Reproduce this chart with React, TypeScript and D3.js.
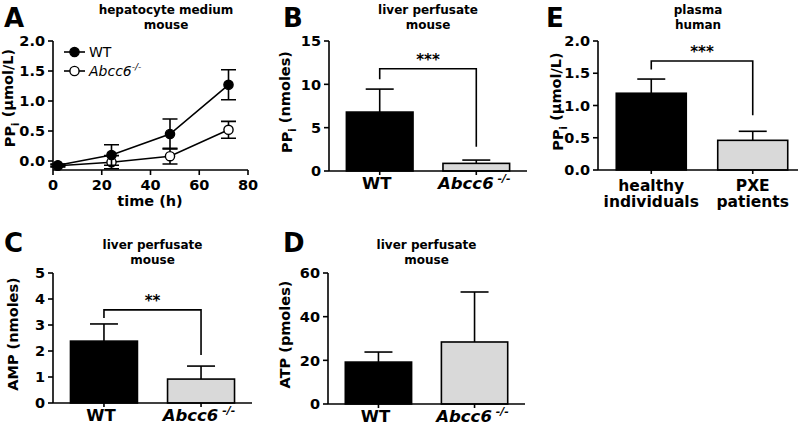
import * as d3 from "d3";

const FONT = "'DejaVu Sans', 'Liberation Sans', sans-serif";

// ---- panel A: hepatocyte medium, time course ----
const timeH = [2, 24, 48, 72];
const wtPPi = [-0.07, 0.1, 0.45, 1.27];
const wtPPiErr = [0.02, 0.17, 0.25, 0.25];
const koPPi = [-0.08, -0.02, 0.08, 0.52];
const koPPiErr = [0.02, 0.11, 0.13, 0.14];
const timeTicks = [0, 20, 40, 60, 80];
const ppiTicksA = [0, 0.5, 1, 1.5, 2];

// ---- bar panels ----
const mouseGroups = ["WT", "Abcc6"];
const humanGroups = ["healthy", "PXE"];
const humanLines: Record<string, string[]> = {
  healthy: ["healthy", "individuals"],
  PXE: ["PXE", "patients"],
};

const perfusatePPi = [6.8, 0.88];
const perfusatePPiErr = [2.65, 0.38];
const perfusateAMP = [2.38, 0.92];
const perfusateAMPErr = [0.66, 0.5];
const perfusateATP = [19.2, 28.4];
const perfusateATPErr = [4.6, 22.9];
const plasmaPPi = [1.19, 0.46];
const plasmaPPiErr = [0.22, 0.14];

const barFill = ["#000000", "#d9d9d9"];

type Bracket = { y: number; left: number; right: number; stars: string };

function PPiLabel({ unit }: { unit: string }) {
  return (
    <>
      PP<tspan fontSize="0.7em" dy="0.35em">i</tspan>
      <tspan dy="-0.35em"> ({unit})</tspan>
    </>
  );
}

function YAxis({
  x,
  y,
  ticks,
  fmt,
}: {
  x: number;
  y: d3.ScaleLinear<number, number>;
  ticks: number[];
  fmt: (v: number) => string;
}) {
  const [r0, r1] = y.range();
  return (
    <g>
      <line x1={x} x2={x} y1={r0} y2={r1} stroke="#000" strokeWidth={1.6} />
      {ticks.map((t) => (
        <g key={t}>
          <line x1={x - 5} x2={x} y1={y(t)} y2={y(t)} stroke="#000" strokeWidth={1.6} />
          <text
            x={x - 8}
            y={y(t)}
            dy="0.36em"
            textAnchor="end"
            fontSize={14.5}
            fontWeight="bold"
          >
            {fmt(t)}
          </text>
        </g>
      ))}
    </g>
  );
}

function Title({ x, y, lines }: { x: number; y: number; lines: string[] }) {
  return (
    <text x={x} y={y} textAnchor="middle" fontSize={12} fontWeight="bold">
      {lines.map((l, i) => (
        <tspan key={l} x={x} dy={i === 0 ? 0 : 14.5}>
          {l}
        </tspan>
      ))}
    </text>
  );
}

function Letter({ x, y, c }: { x: number; y: number; c: string }) {
  return (
    <text x={x} y={y} fontSize={26} fontWeight="bold">
      {c}
    </text>
  );
}

function BarPanel({
  letter,
  letterPos,
  title,
  x0,
  x1,
  bandEnd,
  yTop,
  yBottom,
  max,
  ticks,
  fmt,
  groups,
  values,
  errs,
  bracket,
  yLabel,
  yLabelX,
  human,
  titleY,
}: {
  letter: string;
  letterPos: [number, number];
  title: string[];
  x0: number;
  x1: number;
  bandEnd?: number;
  yTop: number;
  yBottom: number;
  max: number;
  ticks: number[];
  fmt: (v: number) => string;
  groups: string[];
  values: number[];
  errs: number[];
  bracket?: Bracket;
  yLabel: React.ReactNode;
  yLabelX: number;
  human?: boolean;
  titleY: number;
}) {
  const y = d3.scaleLinear().domain([0, max]).range([yBottom, yTop]);
  const x = d3
    .scaleBand<string>()
    .domain(groups)
    .range([x0, bandEnd ?? x1])
    .paddingInner(0.31)
    .paddingOuter(0.18);
  const bw = x.bandwidth();
  const cx = (g: string) => x(g)! + bw / 2;
  const capW = 28;
  return (
    <g>
      <Letter x={letterPos[0]} y={letterPos[1]} c={letter} />
      <Title x={(x0 + x1) / 2} y={titleY} lines={title} />
      {groups.map((g, i) => (
        <g key={g}>
          <line
            x1={cx(g)}
            x2={cx(g)}
            y1={y(values[i])}
            y2={y(values[i] + errs[i])}
            stroke="#000"
            strokeWidth={1.6}
          />
          <line
            x1={cx(g) - capW / 2}
            x2={cx(g) + capW / 2}
            y1={y(values[i] + errs[i])}
            y2={y(values[i] + errs[i])}
            stroke="#000"
            strokeWidth={1.6}
          />
          <rect
            x={x(g)}
            y={y(values[i])}
            width={bw}
            height={yBottom - y(values[i])}
            fill={barFill[i]}
            stroke="#000"
            strokeWidth={1.6}
          />
          <line x1={cx(g)} x2={cx(g)} y1={yBottom} y2={yBottom + 4} stroke="#000" strokeWidth={1.6} />
          {human ? (
            <text x={cx(g)} y={yBottom + 21} textAnchor="middle" fontSize={15.5} fontWeight="bold">
              {humanLines[g].map((l, k) => (
                <tspan key={l} x={cx(g)} dy={k === 0 ? 0 : 16}>
                  {l}
                </tspan>
              ))}
            </text>
          ) : g === "WT" ? (
            <text x={cx(g) - 3} y={yBottom + 18} textAnchor="middle" fontSize={16.5} fontWeight="bold">
              WT
            </text>
          ) : (
            <text x={cx(g) - 2} y={yBottom + 18} textAnchor="middle" fontSize={16.5} fontWeight="bold" fontStyle="italic">
              {g}
              <tspan fontSize={11} dy={-7}> -/-</tspan>
            </text>
          )}
        </g>
      ))}
      <line x1={x0} x2={x1} y1={yBottom} y2={yBottom} stroke="#000" strokeWidth={1.6} />
      <YAxis x={x0} y={y} ticks={ticks} fmt={fmt} />
      {bracket && (
        <g>
          <path
            d={`M${cx(groups[0])},${y(bracket.left)}V${y(bracket.y)}H${cx(groups[1])}V${y(bracket.right)}`}
            fill="none"
            stroke="#000"
            strokeWidth={1.6}
          />
          <text
            x={(cx(groups[0]) + cx(groups[1])) / 2}
            y={y(bracket.y) - 4}
            textAnchor="middle"
            fontSize={15}
            fontWeight="bold"
          >
            {bracket.stars}
          </text>
        </g>
      )}
      <text
        transform={`translate(${yLabelX},${(yTop + yBottom) / 2 - 4}) rotate(-90)`}
        textAnchor="middle"
        fontSize={14.5}
        fontWeight="bold"
      >
        {yLabel}
      </text>
    </g>
  );
}

function PanelA() {
  const x = d3.scaleLinear().domain([0, 80]).range([53, 248]);
  const y = d3.scaleLinear().domain([-0.15, 2]).range([170, 41]);
  const line = d3
    .line<number>()
    .x((_, i) => x(timeH[i]))
    .y((v) => y(v));
  const capW = 15;
  const series = [
    { vals: koPPi, errs: koPPiErr, fill: "#fff" },
    { vals: wtPPi, errs: wtPPiErr, fill: "#000" },
  ];
  const fmt = d3.format(".1f");
  return (
    <g>
      <Letter x={4} y={27} c="A" />
      <Title x={166} y={14} lines={["hepatocyte medium", "mouse"]} />
      {series.map((s, si) => (
        <g key={si}>
          <path d={line(s.vals) ?? ""} fill="none" stroke="#000" strokeWidth={1.6} />
          {s.vals.map((v, i) => (
            <g key={i}>
              <path
                d={`M${x(timeH[i])},${y(v - s.errs[i])}V${y(v + s.errs[i])}M${x(timeH[i]) - capW / 2},${y(
                  v + s.errs[i]
                )}h${capW}M${x(timeH[i]) - capW / 2},${y(v - s.errs[i])}h${capW}`}
                stroke="#000"
                strokeWidth={1.6}
                fill="none"
              />
              <circle cx={x(timeH[i])} cy={y(v)} r={4.6} fill={s.fill} stroke="#000" strokeWidth={1.4} />
            </g>
          ))}
        </g>
      ))}
      <line x1={53} x2={248} y1={170} y2={170} stroke="#000" strokeWidth={1.6} />
      {timeTicks.map((t) => (
        <g key={t}>
          <line x1={x(t)} x2={x(t)} y1={170} y2={175} stroke="#000" strokeWidth={1.6} />
          <text x={x(t)} y={190} textAnchor="middle" fontSize={14.5} fontWeight="bold">
            {t}
          </text>
        </g>
      ))}
      <line x1={53} x2={53} y1={41} y2={170} stroke="#000" strokeWidth={1.6} />
      {ppiTicksA.map((t) => (
        <g key={t}>
          <line x1={48} x2={53} y1={y(t)} y2={y(t)} stroke="#000" strokeWidth={1.6} />
          <text x={45} y={y(t)} dy="0.36em" textAnchor="end" fontSize={14.5} fontWeight="bold">
            {fmt(t)}
          </text>
        </g>
      ))}
      <text x={150} y={206} textAnchor="middle" fontSize={14.5} fontWeight="bold">
        time (h)
      </text>
      <text transform="translate(15,98) rotate(-90)" textAnchor="middle" fontSize={14.5} fontWeight="bold">
        <PPiLabel unit="µmol/L" />
      </text>
      {/* legend */}
      <g>
        <line x1={64} x2={85} y1={52} y2={52} stroke="#000" strokeWidth={1.6} />
        <circle cx={74.5} cy={52} r={4.6} fill="#000" stroke="#000" strokeWidth={1.4} />
        <text x={89} y={57} fontSize={14}>
          WT
        </text>
        <line x1={64} x2={85} y1={71} y2={71} stroke="#000" strokeWidth={1.6} />
        <circle cx={74.5} cy={71} r={4.6} fill="#fff" stroke="#000" strokeWidth={1.4} />
        <text x={89} y={76} fontSize={14} fontStyle="italic">
          Abcc6<tspan fontSize={9} dy={-6}>-/-</tspan>
        </text>
      </g>
    </g>
  );
}

export default function App() {
  const f0 = d3.format("d");
  const f1 = d3.format(".1f");
  return (
    <svg
      width={800}
      height={425}
      style={{ position: "absolute", left: 0, top: 0, background: "#fff" }}
      fontFamily={FONT}
    >
      <rect width={800} height={425} fill="#fff" />
      <PanelA />
      <BarPanel
        letter="B"
        letterPos={[283, 27]}
        title={["liver perfusate", "mouse"]}
        titleY={14}
        x0={329}
        x1={527}
        yTop={41}
        yBottom={171}
        max={15}
        ticks={[0, 5, 10, 15]}
        fmt={f0}
        groups={mouseGroups}
        values={perfusatePPi}
        errs={perfusatePPiErr}
        bracket={{ y: 11.8, left: 10.6, right: 2.8, stars: "***" }}
        yLabel={<PPiLabel unit="nmoles" />}
        yLabelX={292}
      />
      <BarPanel
        letter="E"
        letterPos={[546, 27]}
        title={["plasma", "human"]}
        titleY={14}
        x0={598}
        x1={798}
        bandEnd={806}
        yTop={41}
        yBottom={170}
        max={2}
        ticks={[0, 0.5, 1, 1.5, 2]}
        fmt={f1}
        groups={humanGroups}
        values={plasmaPPi}
        errs={plasmaPPiErr}
        bracket={{ y: 1.69, left: 1.56, right: 0.85, stars: "***" }}
        yLabel={<PPiLabel unit="µmol/L" />}
        yLabelX={563}
        human
      />
      <BarPanel
        letter="C"
        letterPos={[4, 252]}
        title={["liver perfusate", "mouse"]}
        titleY={249}
        x0={53}
        x1={252}
        yTop={273}
        yBottom={403}
        max={5}
        ticks={[0, 1, 2, 3, 4, 5]}
        fmt={f0}
        groups={mouseGroups}
        values={perfusateAMP}
        errs={perfusateAMPErr}
        bracket={{ y: 3.58, left: 3.27, right: 1.85, stars: "**" }}
        yLabel="AMP (nmoles)"
        yLabelX={18}
      />
      <BarPanel
        letter="D"
        letterPos={[283, 252]}
        title={["liver perfusate", "mouse"]}
        titleY={249}
        x0={328}
        x1={525}
        yTop={273}
        yBottom={404}
        max={60}
        ticks={[0, 20, 40, 60]}
        fmt={f0}
        groups={mouseGroups}
        values={perfusateATP}
        errs={perfusateATPErr}
        yLabel="ATP (pmoles)"
        yLabelX={290}
      />
    </svg>
  );
}
